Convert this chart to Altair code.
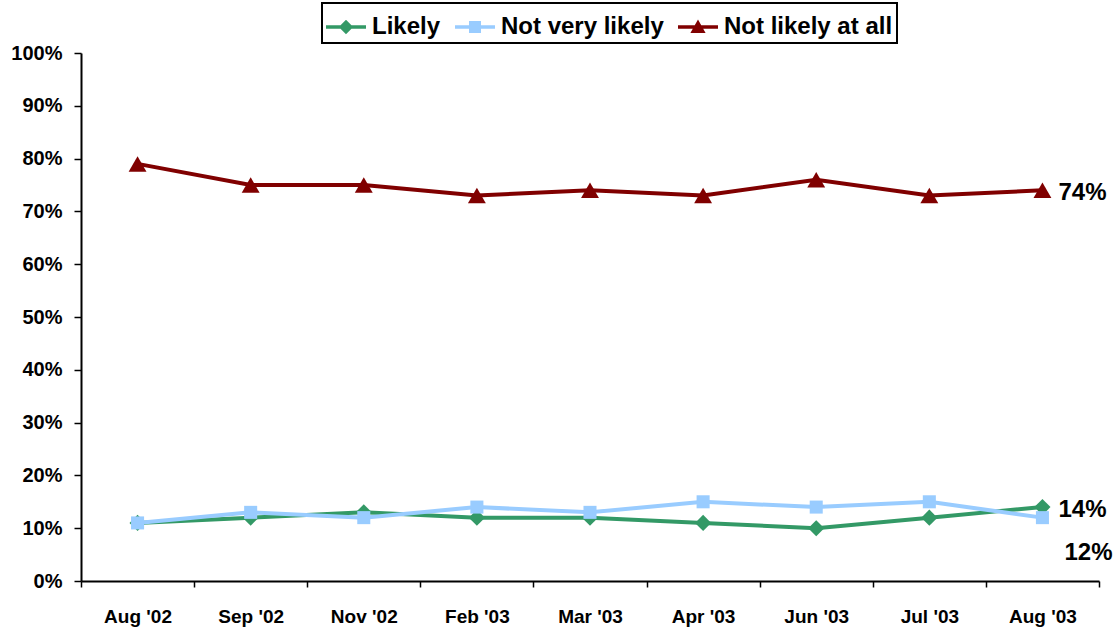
import altair as alt
import pandas as pd

months = ["Aug '02", "Sep '02", "Nov '02", "Feb '03", "Mar '03", "Apr '03", "Jun '03", "Jul '03", "Aug '03"]
likely = [11, 12, 13, 12, 12, 11, 10, 12, 14]
not_very = [11, 13, 12, 14, 13, 15, 14, 15, 12]
not_at_all = [79, 75, 75, 73, 74, 73, 76, 73, 74]
series_names = ["Likely", "Not very likely", "Not likely at all"]
colors = ["#339966", "#99CCFF", "#800000"]
shapes = ["diamond", "square", "triangle-up"]
sizes = [260, 170, 320]

rows = []
for name, vals in zip(series_names, [likely, not_very, not_at_all]):
    for i, (m, v) in enumerate(zip(months, vals)):
        rows.append({"month": m, "series": name, "value": v / 100.0, "order": i})
df = pd.DataFrame(rows)
last = df[df["month"] == months[-1]].copy()
last["label"] = (last["value"] * 100).round().astype(int).astype(str) + "%"

FONT = "Liberation Sans"

x = alt.X("month:N", sort=months, title=None,
          scale=alt.Scale(paddingInner=0, paddingOuter=0),
          axis=alt.Axis(labelAngle=0, tickBand="extent", labelFont=FONT, labelFontSize=19,
                        labelFontWeight="bold", labelColor="black", labelPadding=20,
                        domainColor="black", domainWidth=2, tickColor="black", tickWidth=1.5,
                        tickSize=6, grid=False))
y = alt.Y("value:Q", title=None,
          scale=alt.Scale(domain=[0, 1], nice=False),
          axis=alt.Axis(format=".0%", values=[i / 10 for i in range(11)], labelFont=FONT,
                        labelFontSize=20, labelFontWeight="bold", labelColor="black",
                        labelPadding=12, domainColor="black", domainWidth=2, tickColor="black",
                        tickWidth=1.5, tickSize=7, grid=False))

leg_paths = [
    "M-1,-0.09 L1,-0.09 L1,0.09 L-1,0.09 Z M0,-0.36 L0.36,0 L0,0.36 L-0.36,0 Z",
    "M-1,-0.09 L1,-0.09 L1,0.09 L-1,0.09 Z M-0.3,-0.3 L0.3,-0.3 L0.3,0.3 L-0.3,0.3 Z",
    "M-1,-0.09 L1,-0.09 L1,0.09 L-1,0.09 Z M0,-0.38 L0.38,0.3 L-0.38,0.3 Z",
]

series_layers = []
for name, col, shp, sz in zip(series_names, colors, shapes, sizes):
    base = alt.Chart(df).transform_filter(alt.datum.series == name)
    series_layers.append(base.mark_line(strokeWidth=4, color=col).encode(x=x, y=y))
    series_layers.append(
        base.mark_point(filled=True, opacity=1, shape=shp, size=sz, color=col).encode(x=x, y=y)
    )

leg = alt.Legend(title=None, orient="none", legendX=241, legendY=-50, direction="horizontal",
                 labelFont=FONT, labelFontSize=24, labelFontWeight="bold", labelColor="black",
                 labelLimit=400,
                 symbolSize=1600, symbolStrokeWidth=0, symbolOpacity=1,
                 columnPadding=14, labelOffset=6, padding=4,
                 strokeColor="black")

legend_layer = alt.Chart(df).mark_point(filled=True, opacity=0).encode(
    x=x, y=y,
    color=alt.Color("series:N", scale=alt.Scale(domain=series_names, range=colors),
                    sort=series_names, legend=leg),
    shape=alt.Shape("series:N", scale=alt.Scale(domain=series_names, range=leg_paths),
                    sort=series_names, legend=leg),
)

lab74 = alt.Chart(last[last["series"] == "Not likely at all"]).mark_text(
    align="left", dx=16, dy=3, font=FONT, fontSize=24, fontWeight="bold", color="black"
).encode(x=x, y=y, text="label:N")
lab14 = alt.Chart(last[last["series"] == "Likely"]).mark_text(
    align="left", dx=16, dy=3, font=FONT, fontSize=24, fontWeight="bold", color="black"
).encode(x=x, y=y, text="label:N")
lab12 = alt.Chart(last[last["series"] == "Not very likely"]).mark_text(
    align="left", dx=22, dy=35, font=FONT, fontSize=24, fontWeight="bold", color="black"
).encode(x=x, y=y, text="label:N")

chart = alt.layer(*series_layers, legend_layer, lab74, lab14, lab12).properties(
    width=1018, height=528,
    background="white",
    autosize=alt.AutoSizeParams(type="none"),
    padding={"left": 81, "top": 53, "right": 21, "bottom": 53},
).configure_view(stroke=None).configure_legend(strokeWidth=2)

chart.save("out.html", embed_options={"renderer": "svg", "actions": False})
